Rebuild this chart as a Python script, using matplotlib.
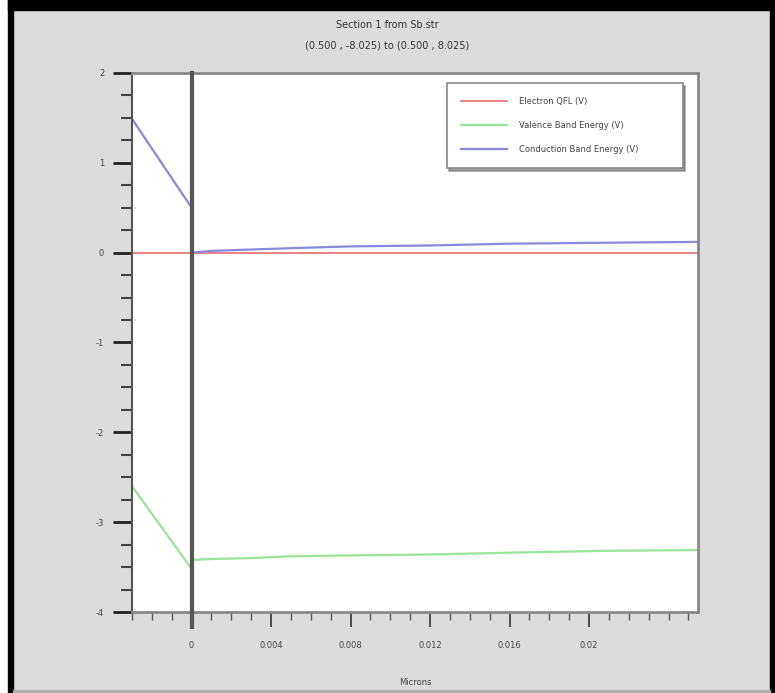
import matplotlib
matplotlib.use("Agg")
import matplotlib.pyplot as plt
from matplotlib.patches import Rectangle
from matplotlib.ticker import MultipleLocator

plt.rcParams["axes.unicode_minus"] = False

# position along the section (microns)
microns = [-0.003, 0.0, 0.0, 0.001, 0.003, 0.005, 0.008, 0.012, 0.016, 0.0205, 0.0255]
# band energies
electron_qfl = [0.0, 0.0, 0.0, 0.0, 0.0, 0.0, 0.0, 0.0, 0.0, 0.0, 0.0]
conduction = [1.49, 0.5, 0.0, 0.02, 0.035, 0.05, 0.07, 0.08, 0.10, 0.11, 0.12]
valence = [-2.6, -3.52, -3.42, -3.41, -3.40, -3.38, -3.37, -3.36, -3.34, -3.32, -3.31]

x_ticks = [0, 0.004, 0.008, 0.012, 0.016, 0.02]
x_ticklabels = ["0", "0.004", "0.008", "0.012", "0.016", "0.02"]
y_ticks = [-4, -3, -2, -1, 0, 1, 2]

fig = plt.figure(figsize=(7.75, 6.93), dpi=100, facecolor="#dcdcdc")

# black frame of the screenshot
fig.patches.append(Rectangle((0, 0), 8 / 775, 1, transform=fig.transFigure, color="white", zorder=0))
fig.patches.append(Rectangle((8 / 775, 0), 5 / 775, 1, transform=fig.transFigure, color="black", zorder=1))
fig.patches.append(Rectangle((8 / 775, 1 - 10 / 693), 1, 10 / 693, transform=fig.transFigure, color="black", zorder=1))
fig.patches.append(Rectangle((770 / 775, 0), 5 / 775, 1, transform=fig.transFigure, color="black", zorder=1))
fig.patches.append(Rectangle((13 / 775, 0), 757 / 775, 3 / 693, transform=fig.transFigure, color="#b0b0b0", zorder=1))

ax = fig.add_axes([132 / 775, 1 - 612 / 693, 566 / 775, 539 / 693])
ax.set_facecolor("white")

ax.plot(microns, electron_qfl, color="#e06060", lw=1.1, label="Electron QFL (V)")
ax.plot(microns, valence, color="#98e498", lw=1.6, label="Valence Band Energy (V)")
ax.plot(microns, conduction, color="#8888dd", lw=1.6, label="Conduction Band Energy (V)")

# thick line at x = 0
ax.plot([0, 0], [2, -4.17], color="#555555", lw=3, clip_on=False, zorder=5)

ax.set_xlim(-0.003, 0.02548)
ax.set_ylim(-4, 2)

ax.set_xticks(x_ticks)
ax.set_xticklabels(x_ticklabels)
ax.xaxis.set_minor_locator(MultipleLocator(0.001))
ax.set_yticks(y_ticks)
ax.yaxis.set_minor_locator(MultipleLocator(0.25))

ax.tick_params(axis="y", which="major", direction="out", length=14, width=2, color="#222222",
               labelsize=6, labelcolor="#444444", pad=6)
ax.tick_params(axis="y", which="minor", direction="out", length=8, width=1.5, color="#444444")
ax.tick_params(axis="x", which="major", direction="out", length=11, width=1.2, color="#333333",
               labelsize=6, labelcolor="#444444", pad=10)
ax.tick_params(axis="x", which="minor", direction="out", length=6, width=1, color="#555555")

for side in ["top", "right", "bottom"]:
    ax.spines[side].set_color("#888888")
    ax.spines[side].set_linewidth(2)
ax.spines["left"].set_color("#555555")
ax.spines["left"].set_linewidth(1.5)

ax.set_xlabel("Microns", fontsize=6, color="#444444", labelpad=20)

fig.text(0.5, 1 - 25 / 693, "Section 1 from Sb.str", ha="center", va="center", fontsize=7, color="#333333")
fig.text(0.5, 1 - 45 / 693, "(0.500 , -8.025) to (0.500 , 8.025)", ha="center", va="center",
         fontsize=7, color="#333333")

leg = ax.legend(loc="upper left", bbox_to_anchor=(0.556, 0.981, 0.417, 0), mode="expand",
                fontsize=6, fancybox=False, shadow=True, edgecolor="#888888", framealpha=1,
                handlelength=5.5, handletextpad=1.5, labelspacing=1.75, borderpad=1.7,
                borderaxespad=0)
for t in leg.get_texts():
    t.set_color("#444444")
leg.get_frame().set_linewidth(1.2)

fig.savefig("out.png", dpi=100, facecolor=fig.get_facecolor())
